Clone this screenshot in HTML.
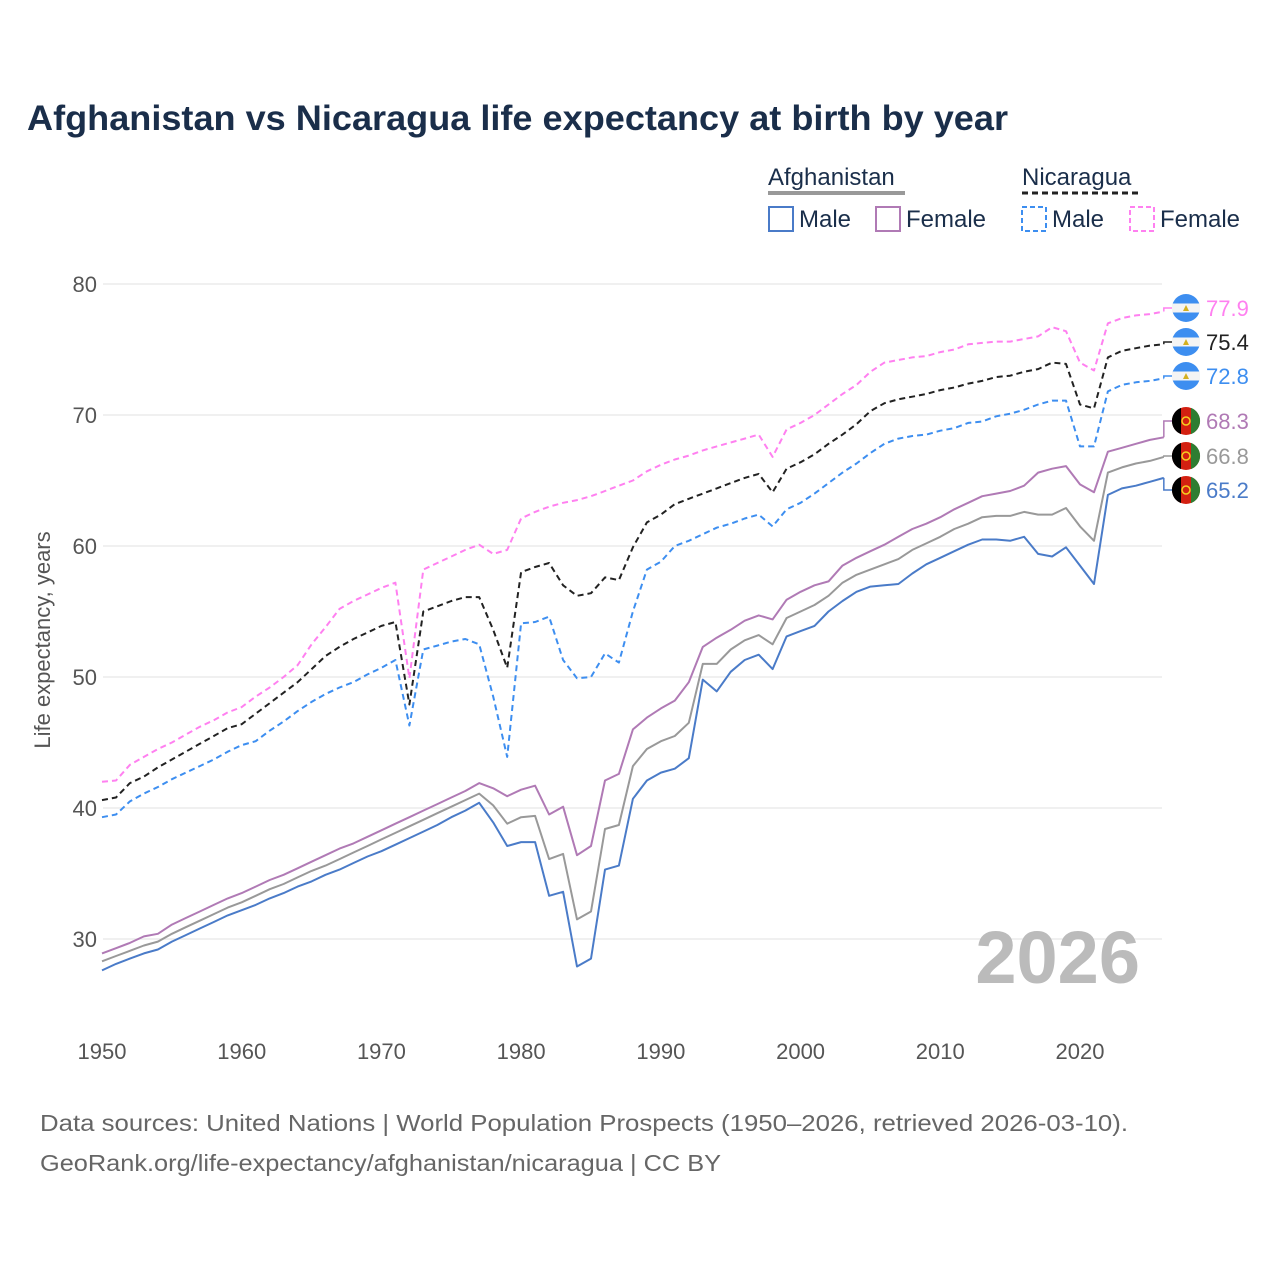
<!DOCTYPE html>
<html><head><meta charset="utf-8"><style>
body{margin:0;background:#fff}
svg{display:block;font-family:"Liberation Sans",sans-serif}
</style></head><body>
<svg id="c" width="1280" height="1280" viewBox="0 0 1280 1280">
<rect width="1280" height="1280" fill="#fff"/>
<text x="27" y="130" font-size="35" font-weight="bold" fill="#1a2e4a" textLength="981" lengthAdjust="spacingAndGlyphs">Afghanistan vs Nicaragua life expectancy at birth by year</text>
<g font-size="24" fill="#1a2e4a">
<text x="768" y="185">Afghanistan</text>
<line x1="768" y1="193" x2="905" y2="193" stroke="#999" stroke-width="4"/>
<text x="1022" y="185">Nicaragua</text>
<line x1="1022" y1="193" x2="1138" y2="193" stroke="#222" stroke-width="3" stroke-dasharray="6,4"/>
<g><rect x="769" y="207" width="24" height="24" fill="none" stroke="#4a7bc8" stroke-width="2"/><text x="799" y="227">Male</text></g>
<g><rect x="876" y="207" width="24" height="24" fill="none" stroke="#b07ab5" stroke-width="2"/><text x="906" y="227">Female</text></g>
<g><rect x="1022" y="207" width="24" height="24" fill="none" stroke="#3d8ef0" stroke-width="2" stroke-dasharray="5,3"/><text x="1052" y="227">Male</text></g>
<g><rect x="1130" y="207" width="24" height="24" fill="none" stroke="#ff80f0" stroke-width="2" stroke-dasharray="5,3"/><text x="1160" y="227">Female</text></g>
</g>
<g id="grid"></g>
<g id="yt"></g>
<g id="xt"></g>
<text x="50" y="640" font-size="22" fill="#555" text-anchor="middle" transform="rotate(-90 50 640)">Life expectancy, years</text>
<text x="1140" y="983" font-size="74" font-weight="bold" fill="#bbb" text-anchor="end">2026</text>
<g id="lines"></g>
<g id="ends"></g>
<text x="40" y="1131" font-size="23" fill="#666" textLength="1088" lengthAdjust="spacingAndGlyphs">Data sources: United Nations | World Population Prospects (1950–2026, retrieved 2026-03-10).</text>
<text x="40" y="1171" font-size="23" fill="#666" textLength="681" lengthAdjust="spacingAndGlyphs">GeoRank.org/life-expectancy/afghanistan/nicaragua | CC BY</text>
</svg>
<script>
const years = Array.from({length:77},(_, i)=>1950+i);
const yTicks = [30,40,50,60,70,80];
const xTicks = [1950,1960,1970,1980,1990,2000,2010,2020];
const afgMale = [27.6,28.1,28.5,28.9,29.2,29.8,30.3,30.8,31.3,31.8,32.2,32.6,33.1,33.5,34.0,34.4,34.9,35.3,35.8,36.3,36.7,37.2,37.7,38.2,38.7,39.3,39.8,40.4,38.9,37.1,37.4,37.4,33.3,33.6,27.9,28.5,35.3,35.6,40.7,42.1,42.7,43.0,43.8,49.8,48.9,50.4,51.3,51.7,50.6,53.1,53.5,53.9,55.0,55.8,56.5,56.9,57.0,57.1,57.9,58.6,59.1,59.6,60.1,60.5,60.5,60.4,60.7,59.4,59.2,59.9,58.5,57.1,63.9,64.4,64.6,64.9,65.2];
const afgTotal = [28.3,28.7,29.1,29.5,29.8,30.4,30.9,31.4,31.9,32.4,32.8,33.3,33.8,34.2,34.7,35.2,35.6,36.1,36.6,37.1,37.6,38.1,38.6,39.1,39.6,40.1,40.6,41.1,40.2,38.8,39.3,39.4,36.1,36.5,31.5,32.1,38.4,38.7,43.2,44.5,45.1,45.5,46.5,51.0,51.0,52.1,52.8,53.2,52.5,54.5,55.0,55.5,56.2,57.2,57.8,58.2,58.6,59.0,59.7,60.2,60.7,61.3,61.7,62.2,62.3,62.3,62.6,62.4,62.4,62.9,61.5,60.4,65.6,66.0,66.3,66.5,66.8];
const afgFemale = [28.9,29.3,29.7,30.2,30.4,31.1,31.6,32.1,32.6,33.1,33.5,34.0,34.5,34.9,35.4,35.9,36.4,36.9,37.3,37.8,38.3,38.8,39.3,39.8,40.3,40.8,41.3,41.9,41.5,40.9,41.4,41.7,39.5,40.1,36.4,37.1,42.1,42.6,46.0,46.9,47.6,48.2,49.6,52.3,53.0,53.6,54.3,54.7,54.4,55.9,56.5,57.0,57.3,58.5,59.1,59.6,60.1,60.7,61.3,61.7,62.2,62.8,63.3,63.8,64.0,64.2,64.6,65.6,65.9,66.1,64.7,64.1,67.2,67.5,67.8,68.1,68.3];
const nicMale = [39.3,39.5,40.5,41.1,41.6,42.2,42.7,43.2,43.7,44.3,44.8,45.1,45.9,46.6,47.4,48.1,48.7,49.2,49.6,50.2,50.7,51.3,46.3,52.1,52.4,52.7,52.9,52.5,48.5,43.9,54.1,54.2,54.6,51.3,49.9,50.0,51.8,51.1,55.0,58.2,58.8,60.0,60.4,60.9,61.4,61.7,62.1,62.4,61.5,62.8,63.3,64.0,64.8,65.6,66.3,67.1,67.8,68.2,68.4,68.5,68.8,69.0,69.4,69.5,69.9,70.1,70.4,70.8,71.1,71.1,67.6,67.6,71.8,72.3,72.5,72.6,72.8];
const nicTotal = [40.6,40.8,41.9,42.4,43.1,43.7,44.3,44.9,45.5,46.1,46.4,47.2,48.0,48.8,49.6,50.6,51.6,52.3,52.9,53.4,53.9,54.2,47.9,55.0,55.4,55.8,56.1,56.1,53.6,50.7,58.0,58.4,58.7,57.0,56.2,56.4,57.6,57.4,59.9,61.8,62.4,63.2,63.6,64.0,64.4,64.8,65.2,65.5,64.1,65.9,66.4,67.0,67.8,68.5,69.3,70.3,70.9,71.2,71.4,71.6,71.9,72.1,72.4,72.6,72.9,73.0,73.3,73.5,74.0,73.9,70.8,70.5,74.4,74.9,75.1,75.3,75.4];
const nicFemale = [42.0,42.1,43.3,43.9,44.5,45.0,45.6,46.2,46.7,47.3,47.7,48.5,49.2,50.0,50.9,52.5,53.8,55.2,55.8,56.3,56.8,57.2,49.9,58.2,58.7,59.2,59.7,60.1,59.4,59.7,62.1,62.6,63.0,63.3,63.5,63.8,64.2,64.6,65.0,65.7,66.2,66.6,66.9,67.3,67.6,67.9,68.2,68.5,66.8,68.9,69.4,70.0,70.8,71.6,72.3,73.3,74.0,74.2,74.4,74.5,74.8,75.0,75.4,75.5,75.6,75.6,75.8,76.0,76.7,76.4,74.0,73.4,77.0,77.4,77.6,77.7,77.9];
const seriesNames = ['nic-female','nic-total','nic-male','afg-female','afg-total','afg-male'];

const NS='http://www.w3.org/2000/svg';
const X=v=>102+(v-1950)*(978/70);
const Y=v=>284+(80-v)*13.1;
function mk(tag,attrs,parent){const e=document.createElementNS(NS,tag);for(const k in attrs)e.setAttribute(k,attrs[k]);parent.appendChild(e);return e;}
const grid=document.getElementById('grid'),yt=document.getElementById('yt'),xt=document.getElementById('xt');
yTicks.forEach(t=>{
  const l=mk('line',{x1:103,x2:1162,y1:Y(t),y2:Y(t),stroke:'#ebebeb','stroke-width':1.5},grid);
  
  
  const tx=mk('text',{x:97,y:Y(t)+8,'font-size':22,fill:'#555','text-anchor':'end'},yt);
  tx.textContent=t;
  
  
});
xTicks.forEach(t=>{
  const tx=mk('text',{x:X(t),y:1059,'font-size':22,fill:'#555','text-anchor':'middle'},xt);
  tx.textContent=t;
  
  
});
const lines=document.getElementById('lines'),ends=document.getElementById('ends');
const defs=[
  [nicFemale,'#ff80f0','6,4','nic'],
  [nicTotal,'#222','6,4','nic'],
  [nicMale,'#3d8ef0','6,4','nic'],
  [afgFemale,'#b07ab5','','afg'],
  [afgTotal,'#999','','afg'],
  [afgMale,'#4a7bc8','','afg']
];
const labelY=[308,342,376,421,456,490];
defs.forEach((d,i)=>{
  const [vals,col,dash,c]=d;
  const pts=vals.map((v,j)=>X(years[j]).toFixed(1)+','+Y(v).toFixed(1)).join(' ');
  const p=mk('polyline',{points:pts,fill:'none',stroke:col,'stroke-width':2,'stroke-dasharray':dash,'stroke-linejoin':'round'},lines);
  
  
  const last=vals[vals.length-1];
  const ly=labelY[i];
  mk('polyline',{points:`${X(2026)},${Y(last)} ${X(2026)},${ly} 1172,${ly}`,fill:'none',stroke:col,'stroke-width':1.5},ends);
  const g=mk('g',{},ends);
  
  
  const cx=1186;
  if(c==='nic'){
    mk('circle',{cx:cx,cy:ly,r:14,fill:'#3d8ef0'},g);
    mk('rect',{x:cx-14,y:ly-4.5,width:28,height:9,fill:'#f4f4f4'},g);
    mk('polygon',{points:`${cx},${ly-3} ${cx-3},${ly+3} ${cx+3},${ly+3}`,fill:'#d4b020'},g);
  }else{
    mk('circle',{cx:cx,cy:ly,r:14,fill:'#d32011'},g);
    mk('path',{d:`M${cx-5},${ly-13.1} A14,14 0 0 0 ${cx-5},${ly+13.1} Z`,fill:'#000'},g);
    mk('path',{d:`M${cx+5},${ly-13.1} A14,14 0 0 1 ${cx+5},${ly+13.1} Z`,fill:'#2e7d32'},g);
    mk('circle',{cx:cx,cy:ly,r:4,fill:'none',stroke:'#f5d020','stroke-width':1.5},g);
  }
  const t=mk('text',{x:1206,y:ly+8,'font-size':22,fill:col},ends);
  t.textContent=last.toFixed(1);
  
  
});
</script>
</body></html>
